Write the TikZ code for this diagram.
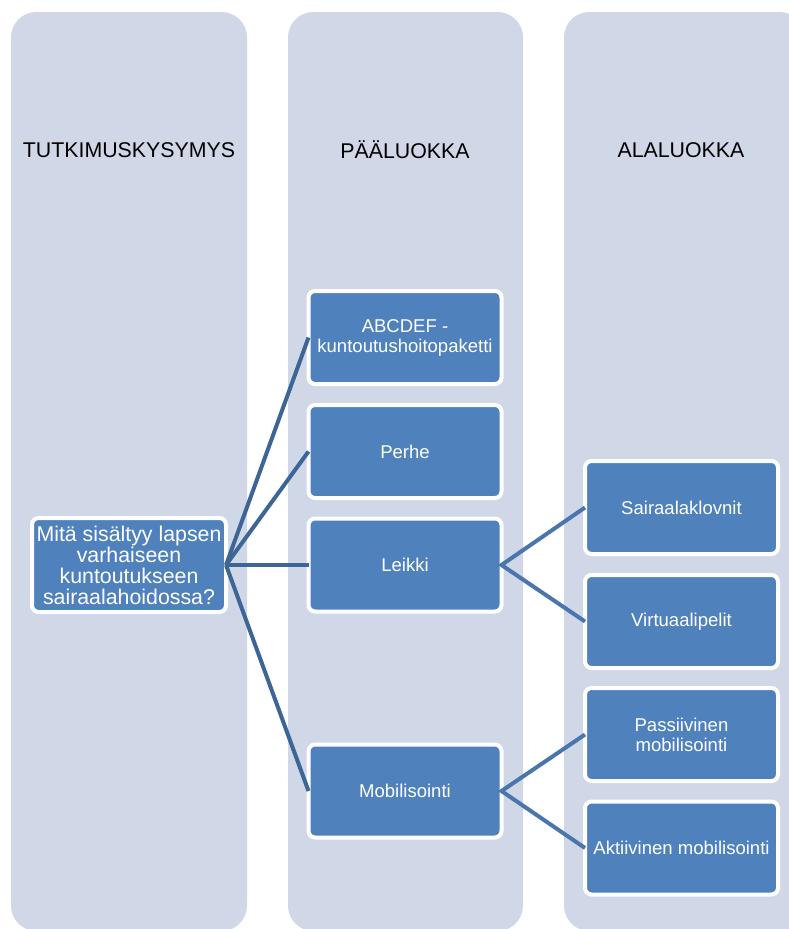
\documentclass[tikz,border=0pt]{standalone}
\usepackage{fontspec}
\setmainfont{Liberation Sans}
\usetikzlibrary{calc}

\definecolor{colbg}{HTML}{D0D8E8}
\definecolor{boxblue}{HTML}{4F81BD}
\definecolor{linkblue}{HTML}{3D6697}
\definecolor{sublinkblue}{HTML}{4A76AD}

\begin{document}
\begin{tikzpicture}[x=0.75pt,y=-0.75pt,
	colbox/.style={fill=colbg, rounded corners=19pt},
	catbox/.style={rectangle, draw=white, line width=3pt, fill=boxblue, rounded corners=5pt,
		minimum width=144.75pt, minimum height=69.75pt, inner sep=2pt, outer sep=0pt,
		align=center, text=white, font=\fontsize{13.9}{15}\selectfont},
	head/.style={font=\fontsize{16}{19}\selectfont},
	link/.style={draw=linkblue, line width=3pt},
	sublink/.style={draw=sublinkblue, line width=3pt}]

	\useasboundingbox (0,0) rectangle (789,929);
	\clip (0,0) rectangle (789,929);

	% columns
	\fill[colbox] (11,12) rectangle (247,931);
	\fill[colbox] (288,12) rectangle (523,931);
	\fill[colbox] (564,12) rectangle (805,931);

	\node[head] (h1) at (129,150) {TUTKIMUSKYSYMYS};
	\node[head] (h2) at (405,150) {PÄÄLUOKKA};
	\node[head] (h3) at (681,150) {ALALUOKKA};

	% question
	\node[catbox, minimum width=145.5pt, minimum height=70.5pt,
		font=\fontsize{16}{15.75}\selectfont] (q) at (129,565)
		{Mitä sisältyy lapsen\\varhaiseen\\kuntoutukseen\\sairaalahoidossa?};

	% main categories
	\node[catbox] (abc) at (405,337.5) {ABCDEF -\\kuntoutushoitopaketti};
	\node[catbox] (perhe) at (405,451.5) {Perhe};
	\node[catbox] (leikki) at (405,565) {Leikki};
	\node[catbox] (mobi) at (405,791) {Mobilisointi};

	% sub categories
	\node[catbox] (klovni) at (681.5,507.5) {Sairaalaklovnit};
	\node[catbox] (virtu) at (681.5,621.5) {Virtuaalipelit};
	\node[catbox] (passi) at (681.5,734.5) {Passiivinen\\mobilisointi};
	\node[catbox] (akti) at (681.5,848) {Aktiivinen mobilisointi};

	\foreach \t in {abc, perhe, leikki, mobi}
		\draw[link] (q.east) -- (\t.west);
	\draw[sublink] (klovni.west) -- (leikki.east) -- (virtu.west);
	\draw[sublink] (passi.west) -- (mobi.east) -- (akti.west);
\end{tikzpicture}
\end{document}
